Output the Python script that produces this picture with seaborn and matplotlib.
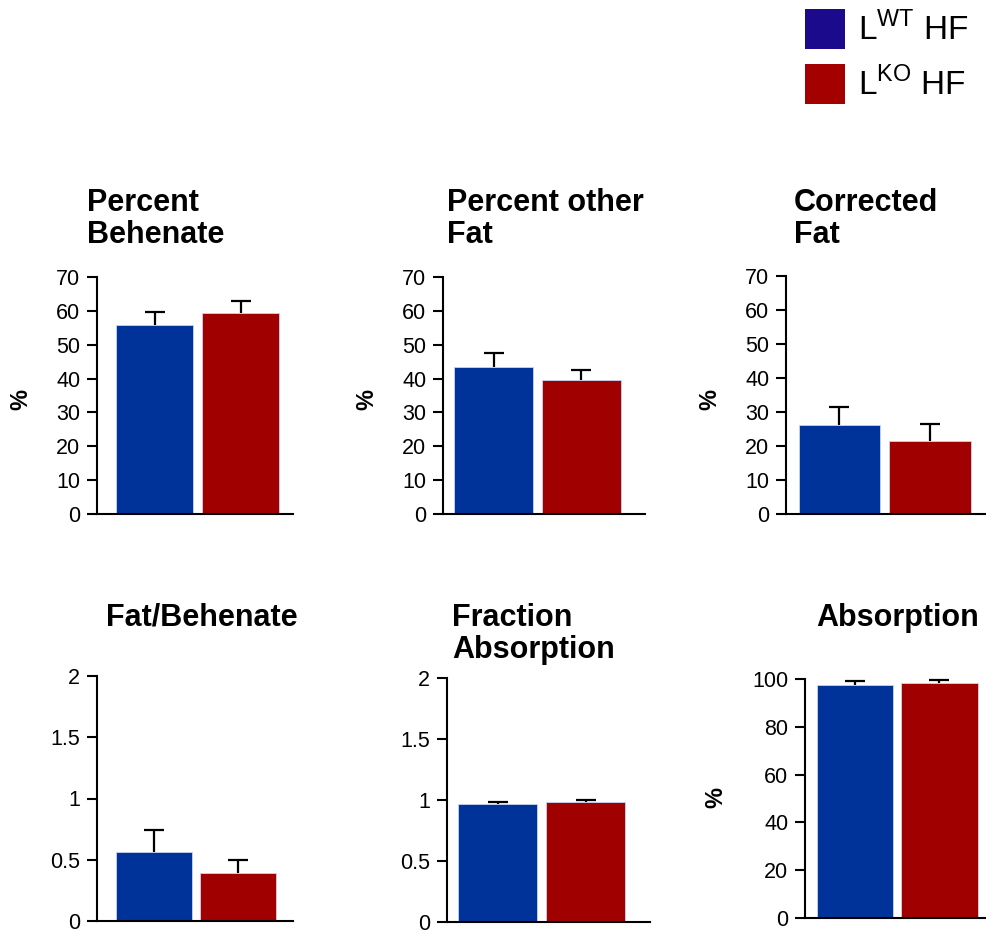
import numpy as np
import pandas as pd
import seaborn as sns
import matplotlib.pyplot as plt
from matplotlib.patches import Patch

sns.set_theme(style='white')
plt.rcParams['font.family'] = ['Liberation Sans', 'DejaVu Sans']
plt.rcParams['mathtext.fontset'] = 'custom'
plt.rcParams['mathtext.rm'] = 'Liberation Sans'
plt.rcParams['text.color'] = 'black'

# data
groups = ['WT', 'KO']
titles = ['Percent\nBehenate', 'Percent other\nFat', 'Corrected\nFat',
          'Fat/Behenate', 'Fraction\nAbsorption', 'Absorption']
means = [[55.8, 59.4], [43.5, 39.5], [26.2, 21.4],
         [0.565, 0.395], [0.965, 0.982], [97.5, 98.5]]
errs = [[3.9, 3.6], [4.0, 3.0], [5.2, 5.1],
        [0.175, 0.10], [0.02, 0.02], [1.8, 1.2]]
yticks = [[0, 10, 20, 30, 40, 50, 60, 70]] * 3 + [[0, 0.5, 1, 1.5, 2]] * 2 + [[0, 20, 40, 60, 80, 100]]
ytick_labels = [[str(t) for t in yt] for yt in yticks[:3]] + \
    [['0', '0.5', '1', '1.5', '2']] * 2 + [[str(t) for t in yticks[5]]]
show_pct = [True, True, True, False, False, True]

bar_colors = {'WT': '#003399', 'KO': '#A00000'}
legend_colors = ['#1C0A8C', '#A50000']
legend_labels = ['L$^{\\mathrm{WT}}$ HF', 'L$^{\\mathrm{KO}}$ HF']

W, H = 986, 935
fig = plt.figure(figsize=(W / 100, H / 100), dpi=100)

# panel boxes in pixels: left spine, right end, top (max tick), bottom (zero)
boxes = [(97, 293, 277, 514), (443, 645, 277, 514), (786, 986, 276, 514),
         (97, 293, 676, 921), (447, 650, 678, 922), (805, 986, 679, 918)]
xlims = [(-0.67, 1.61), (-0.58, 1.73), (-0.59, 1.62),
         (-0.68, 1.65), (-0.575, 1.73), (-0.59, 1.55)]
# title anchors (x, top y, ha)
title_pos = [(87, 188, 'left'), (447, 188, 'left'), (794, 188, 'left'),
             (202, 603, 'center'), (452, 603, 'left'), (898, 603, 'center')]
pct_pos = [(21, 400), (367, 400), (710, 400), None, None, (716, 797)]

for i in range(6):
    L, R, T, B = boxes[i]
    ax = fig.add_axes([L / W, 1 - B / H, (R - L) / W, (B - T) / H])
    df = pd.DataFrame({'group': groups, 'value': means[i]})
    sns.barplot(data=df, x='group', y='value', hue='group', palette=bar_colors,
                width=0.9, errorbar=None, legend=False, ax=ax, saturation=1,
                edgecolor='#c8d4f0', linewidth=0.6)
    eb = ax.errorbar([0, 1], means[i], yerr=[[0, 0], errs[i]], fmt='none',
                     ecolor='black', elinewidth=1.6, capsize=7, capthick=1.6,
                     clip_on=False, zorder=5)
    # keep only the upper cap
    eb[1][0].set_visible(False)
    ax.set_xlim(*xlims[i])
    ax.set_ylim(0, yticks[i][-1])
    ax.set_yticks(yticks[i])
    ax.set_yticklabels(ytick_labels[i])
    ax.set_xticks([])
    ax.set_xlabel('')
    ax.set_ylabel('')
    for s in ['top', 'right']:
        ax.spines[s].set_visible(False)
    for s in ['left', 'bottom']:
        ax.spines[s].set_linewidth(1.5)
        ax.spines[s].set_color('black')
    ax.tick_params(axis='y', direction='out', length=7, width=1.5,
                   labelsize=15.5, pad=5, left=True, colors='black')
    ax.set_facecolor('none')

    tx, ty, ha = title_pos[i]
    fig.text(tx / W, 1 - ty / H, titles[i], ha=ha, va='top',
             fontsize=22, fontweight='bold', linespacing=1.1)
    if show_pct[i]:
        px, py = pct_pos[i]
        fig.text(px / W, 1 - py / H, '%', rotation=90, ha='center',
                 va='center', fontsize=17, fontweight='bold')

handles = [Patch(facecolor=c, edgecolor='none') for c in legend_colors]
fig.legend(handles, legend_labels, loc='upper left',
           bbox_to_anchor=(805 / W, 1 - 9 / H), frameon=False, fontsize=24,
           handlelength=1.2, handleheight=1.47, handletextpad=0.4,
           labelspacing=0.45, borderpad=0, borderaxespad=0)

fig.savefig('out.png', dpi=100)
